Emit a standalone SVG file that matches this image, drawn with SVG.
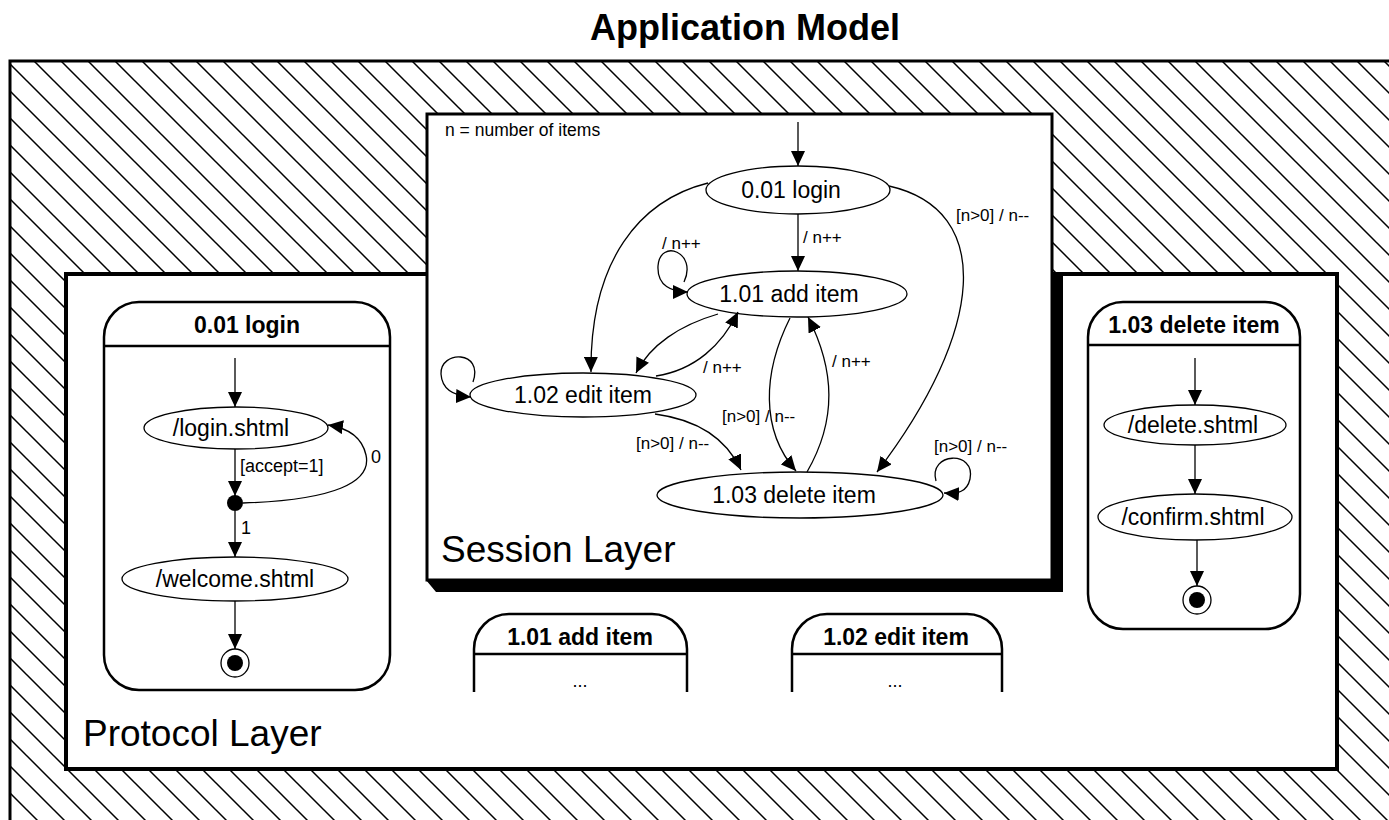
<svg xmlns="http://www.w3.org/2000/svg" width="1389" height="820" viewBox="0 0 1389 820">
<style>
  .t{font-family:"Liberation Sans",Arial,sans-serif;fill:#000}
  .lbl{font-size:17px}
  .st{font-size:23px;text-anchor:middle}
  .hd{font-size:23px;font-weight:bold;text-anchor:middle}
  .big{font-size:37px}
  .el{fill:#fff;stroke:#000;stroke-width:1.3}
  .box{fill:#fff;stroke:#000;stroke-width:2.5}
  .ln{fill:none;stroke:#000;stroke-width:1.3}
  .ar{fill:none;stroke:#000;stroke-width:1.3;marker-end:url(#ah)}
</style>
<defs>
  <pattern id="hatch" patternUnits="userSpaceOnUse" width="27" height="27">
    <path d="M0,0 L27,27 M-4,23 L4,31 M23,-4 L31,4" stroke="#000" stroke-width="1.5"/>
  </pattern>
  <marker id="ah" markerUnits="userSpaceOnUse" markerWidth="16" markerHeight="14" refX="15" refY="7" orient="auto">
    <path d="M0,0 L15,7 L0,14 Z" fill="#000"/>
  </marker>
</defs>
<rect width="1389" height="820" fill="#fff"/>
<text class="t" x="745" y="40" font-size="36" font-weight="bold" text-anchor="middle">Application Model</text>

<g id="application-frame">
  <rect x="10" y="61" width="1400" height="780" fill="url(#hatch)" stroke="#000" stroke-width="3"/>
</g>

<g id="protocol-layer">
  <rect x="66" y="274" width="1271" height="495" fill="#fff" stroke="#000" stroke-width="4"/>
  <text class="t big" x="83" y="746">Protocol Layer</text>
</g>

<g id="session-layer">
  <path d="M1052,274 L1063,274 L1063,592 L436,592 L426,580 L1052,580 Z" fill="#000"/>
  <rect x="427" y="114" width="625" height="466" fill="#fff" stroke="#000" stroke-width="3"/>
  <text class="t" x="445" y="136" font-size="17.5">n = number of items</text>
  <text class="t big" x="441" y="562">Session Layer</text>
</g>

<g id="s-login">
  <ellipse class="el" cx="798" cy="190" rx="92" ry="24"/>
  <text class="t st" x="791" y="198">0.01 login</text>
</g>
<g id="s-add">
  <ellipse class="el" cx="797" cy="294" rx="110" ry="23"/>
  <text class="t st" x="789" y="302">1.01 add item</text>
</g>
<g id="s-edit">
  <ellipse class="el" cx="583" cy="395" rx="113" ry="22"/>
  <text class="t st" x="583" y="403">1.02 edit item</text>
</g>
<g id="s-delete">
  <ellipse class="el" cx="800" cy="495" rx="143" ry="23"/>
  <text class="t st" x="794" y="503">1.03 delete item</text>
</g>

<g id="p-login">
  <path class="box" d="M104,655 L104,337 A35,35 0 0 1 139,302 L355,302 A35,35 0 0 1 390,337 L390,655 A35,35 0 0 1 355,690 L139,690 A35,35 0 0 1 104,655 Z"/>
  <line x1="104" y1="346" x2="390" y2="346" stroke="#000" stroke-width="2.5"/>
  <text class="t hd" x="247" y="333">0.01 login</text>
  <ellipse class="el" cx="236" cy="428" rx="92" ry="21"/>
  <text class="t st" x="231" y="436">/login.shtml</text>
  <circle cx="235" cy="503" r="8" fill="#000"/>
  <ellipse class="el" cx="235" cy="579" rx="113" ry="22"/>
  <text class="t st" x="235" y="587">/welcome.shtml</text>
  <circle cx="235" cy="663" r="14" fill="#fff" stroke="#000" stroke-width="1.3"/>
  <circle cx="235" cy="663" r="8" fill="#000"/>
</g>

<g id="p-delete">
  <path class="box" d="M1088,594 L1088,337 A35,35 0 0 1 1123,302 L1265,302 A35,35 0 0 1 1300,337 L1300,594 A35,35 0 0 1 1265,629 L1123,629 A35,35 0 0 1 1088,594 Z"/>
  <line x1="1088" y1="345" x2="1300" y2="345" stroke="#000" stroke-width="2.5"/>
  <text class="t hd" x="1194" y="333">1.03 delete item</text>
  <ellipse class="el" cx="1195" cy="425" rx="91" ry="20"/>
  <text class="t st" x="1193" y="433">/delete.shtml</text>
  <ellipse class="el" cx="1195" cy="517" rx="97" ry="23"/>
  <text class="t st" x="1193" y="525">/confirm.shtml</text>
  <circle cx="1197" cy="600" r="14" fill="#fff" stroke="#000" stroke-width="1.3"/>
  <circle cx="1197" cy="600" r="8" fill="#000"/>
</g>

<g id="p-add">
  <path class="box" d="M474,692 L474,649 A35,35 0 0 1 509,614 L652,614 A35,35 0 0 1 687,649 L687,692" />
  <line x1="474" y1="654" x2="687" y2="654" stroke="#000" stroke-width="2.5"/>
  <text class="t hd" x="580" y="645">1.01 add item</text>
  <text class="t" x="580" y="687" font-size="18" text-anchor="middle">...</text>
</g>

<g id="p-edit">
  <path class="box" d="M792,692 L792,649 A35,35 0 0 1 827,614 L967,614 A35,35 0 0 1 1002,649 L1002,692" />
  <line x1="792" y1="654" x2="1002" y2="654" stroke="#000" stroke-width="2.5"/>
  <text class="t hd" x="896" y="645">1.02 edit item</text>
  <text class="t" x="895" y="687" font-size="18" text-anchor="middle">...</text>
</g>

<g id="connectors">
  <!-- session layer -->
  <path class="ar" d="M798,122 L798,166"/>
  <path class="ar" d="M798,214 L798,271"/>
  <path class="ar" d="M708,183 C640,200 590,260 591,372"/>
  <path class="ar" d="M889,186 C995,210 985,330 877,472"/>
  <path class="ar" d="M684,282 C698,252 660,238 658,266 C657,286 672,292 688,292"/>
  <path class="ar" d="M473,382 C484,350 440,350 441,374 C442,390 455,396 471,397"/>
  <path class="ar" d="M936,481 C928,452 976,450 970,479 C967,492 958,494 944,493"/>
  <path class="ar" d="M718,314 C680,325 650,345 636,373"/>
  <path class="ar" d="M656,376 C695,370 722,345 738,312"/>
  <path class="ar" d="M655,414 C700,420 727,440 741,470"/>
  <path class="ar" d="M790,318 C763,372 760,430 796,471"/>
  <path class="ar" d="M807,472 C837,420 835,370 808,317"/>
  <!-- protocol login -->
  <path class="ar" d="M235,358 L235,407"/>
  <path class="ar" d="M235,449 L235,496"/>
  <path class="ar" d="M243,503 C335,500 372,482 366,455 C362,437 348,428 328,425"/>
  <path class="ar" d="M235,511 L235,557"/>
  <path class="ar" d="M235,601 L235,649"/>
  <!-- protocol delete -->
  <path class="ar" d="M1195,358 L1195,405"/>
  <path class="ar" d="M1195,445 L1195,494"/>
  <path class="ar" d="M1197,540 L1197,586"/>
</g>

<g id="labels">
  <text class="t lbl" x="803" y="243">/ n++</text>
  <text class="t lbl" x="662" y="249">/ n++</text>
  <text class="t lbl" x="956" y="221">[n&gt;0] / n--</text>
  <text class="t lbl" x="703" y="373">/ n++</text>
  <text class="t lbl" x="832" y="367">/ n++</text>
  <text class="t lbl" x="722" y="422">[n&gt;0] / n--</text>
  <text class="t lbl" x="636" y="449">[n&gt;0] / n--</text>
  <text class="t lbl" x="934" y="452">[n&gt;0] / n--</text>
  <text class="t" x="240" y="472" font-size="18">[accept=1]</text>
  <text class="t" x="371" y="463" font-size="18">0</text>
  <text class="t" x="241" y="534" font-size="18">1</text>
</g>
</svg>
